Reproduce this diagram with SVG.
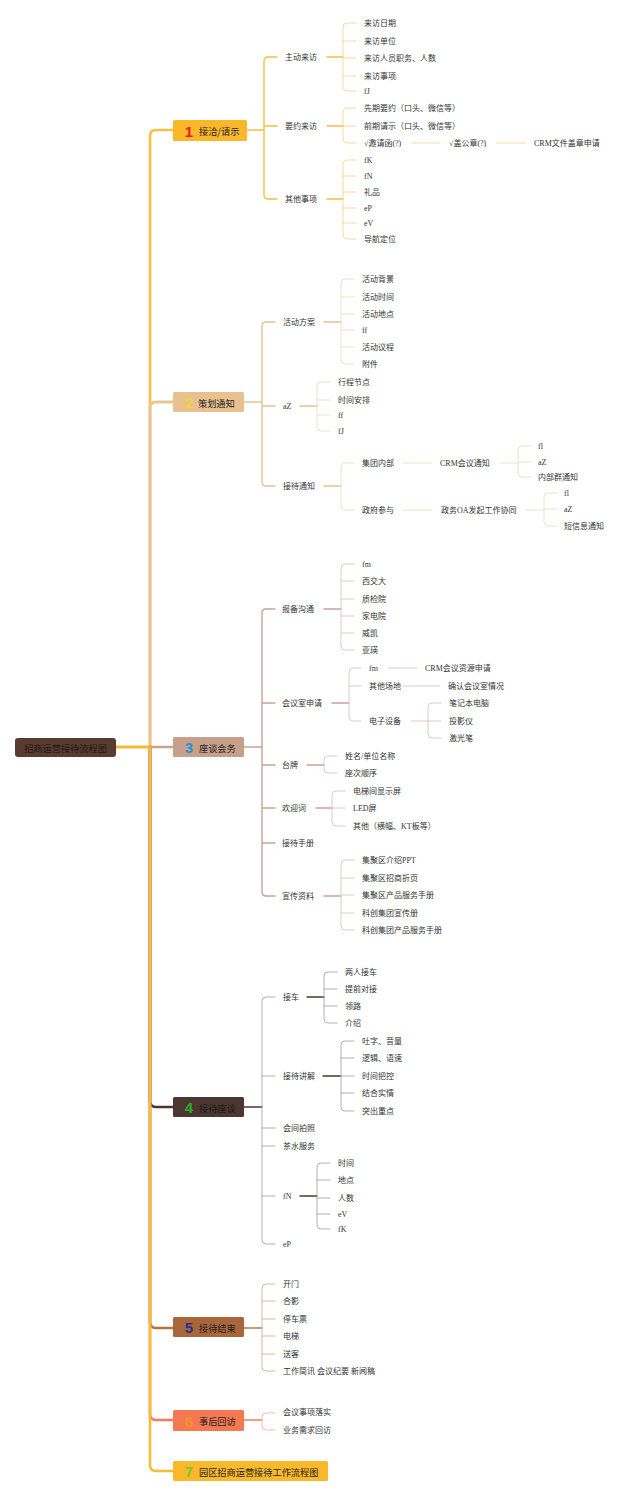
<svg xmlns="http://www.w3.org/2000/svg" width="640" height="1496" viewBox="0 0 640 1496">
<style>
text{font-family:"Liberation Serif","Noto Sans CJK SC",sans-serif;font-size:8px;fill:#333;dominant-baseline:central}
.b{font-family:"Noto Sans CJK SC",sans-serif;font-size:9.2px;fill:#222}
.n{font-family:"Liberation Sans","Noto Sans CJK SC",sans-serif;font-size:15px;font-weight:bold;text-anchor:middle}
path{fill:none;stroke-linecap:round}
.k1{stroke:#f6bf45;stroke-width:1.4}.t1{stroke:#f8d690;stroke-width:0.9}
.k2{stroke:#e6c292;stroke-width:1.4}.t2{stroke:#efdcc2;stroke-width:0.9}
.k3{stroke:#c9a29a;stroke-width:1.4}.t3{stroke:#dcc4c0;stroke-width:0.9}
.k4{stroke:#4a3833;stroke-width:1.4}.t4{stroke:#a8a8a8;stroke-width:0.9}
.k5{stroke:#b87848;stroke-width:1.4}.t5{stroke:#d8b090;stroke-width:0.9}
.k6{stroke:#f47a58;stroke-width:1.4}.t6{stroke:#f8b4a2;stroke-width:0.9}
</style>
<rect width="640" height="1496" fill="#fff"/>
<g id="connectors">
<path d="M150,747 V136 Q150,130 156,130 H173" stroke="#f6bf45" stroke-width="2.6"/>
<path d="M150,747 V408 Q150,402 156,402 H173" stroke="#e9c594" stroke-width="3"/>
<path d="M150,747 H173" stroke="#c9a08a" stroke-width="2.6"/>
<path d="M150,747 V1101 Q150,1107 156,1107 H173" stroke="#4a3530" stroke-width="2.6"/>
<path d="M150,747 V1322 Q150,1328 156,1328 H173" stroke="#b87040" stroke-width="2.6"/>
<path d="M150,747 V1414 Q150,1420 156,1420 H173" stroke="#f47a58" stroke-width="2.6"/>
<path d="M150,747 V1465 Q150,1471 156,1471 H173" stroke="#f7bc38" stroke-width="2.6"/>
<path d="M116,747 H150" stroke="#f5b830" stroke-width="3"/>
<!-- branch 1 -->
<path class="k1" d="M247,130 H264"/>
<path class="k1" d="M277,57 H268 Q264,57 264,61 V195 Q264,199 268,199 H277 M264,126 H277"/>
<path class="k1" d="M327,57 H343 M327,126 H343 M327,199 H343"/>
<path class="t1" d="M356,23 H347 Q343,23 343,27 V87 Q343,91 347,91 H356 M343,41 H356 M343,58 H356 M343,76 H356"/>
<path class="t1" d="M356,108 H347 Q343,108 343,112 V139 Q343,143 347,143 H356 M343,126 H356"/>
<path class="t1" d="M412,143 H440 M497,143 H525"/>
<path class="t1" d="M356,160 H347 Q343,160 343,164 V235 Q343,239 347,239 H356 M343,176 H356 M343,192 H356 M343,208 H356 M343,223 H356"/>
<!-- branch 2 -->
<path class="k2" d="M244,402 H262"/>
<path class="k2" d="M275,322 H266 Q262,322 262,326 V482 Q262,486 266,486 H275 M262,406 H275"/>
<path class="k2" d="M324,322 H341 M300,406 H317 M324,486 H341"/>
<path class="t2" d="M354,279 H345 Q341,279 341,283 V360 Q341,364 345,364 H354 M341,297 H354 M341,314 H354 M341,330 H354 M341,347 H354"/>
<path class="t2" d="M330,382 H321 Q317,382 317,386 V427 Q317,431 321,431 H330 M317,400 H330 M317,415 H330"/>
<path class="t2" d="M354,463 H345 Q341,463 341,467 V506 Q341,510 345,510 H354"/>
<path class="t2" d="M403,463 H432 M500,463 H518 M403,510 H432 M526,510 H544"/>
<path class="t2" d="M531,446 H522 Q518,446 518,450 V473 Q518,477 522,477 H531 M518,462 H531"/>
<path class="t2" d="M557,493 H548 Q544,493 544,497 V522 Q544,526 548,526 H557 M544,509 H557"/>
<!-- branch 3 -->
<path class="k3" d="M244,747 H262"/>
<path class="k3" d="M275,609 H266 Q262,609 262,613 V892 Q262,896 266,896 H275 M262,703 H275 M262,765 H275 M262,808 H275 M262,843 H275"/>
<path class="k3" d="M324,609 H341 M332,703 H349 M307,765 H324 M316,808 H332 M324,896 H341"/>
<path class="t3" d="M354,564 H345 Q341,564 341,568 V646 Q341,650 345,650 H354 M341,581 H354 M341,599 H354 M341,616 H354 M341,633 H354"/>
<path class="t3" d="M361,668 H353 Q349,668 349,672 V717 Q349,721 353,721 H361 M349,686 H361"/>
<path class="t3" d="M388,668 H417 M403,686 H440 M411,721 H428"/>
<path class="t3" d="M441,703 H432 Q428,703 428,707 V734 Q428,738 432,738 H441 M428,721 H441"/>
<path class="t3" d="M337,756 H328 Q324,756 324,760 V769 Q324,773 328,773 H337"/>
<path class="t3" d="M345,791 H336 Q332,791 332,795 V822 Q332,826 336,826 H345 M332,808 H345"/>
<path class="t3" d="M354,860 H345 Q341,860 341,864 V926 Q341,930 345,930 H354 M341,878 H354 M341,895 H354 M341,913 H354"/>
<!-- branch 4 -->
<path class="k4" d="M244,1107 H262"/>
<path class="t4" d="M275,997 H266 Q262,997 262,1001 V1240 Q262,1244 266,1244 H275 M262,1076 H275 M262,1128 H275 M262,1146 H275 M262,1196 H275"/>
<path class="k4" d="M307,997 H324 M323,1076 H341 M300,1196 H317"/>
<path class="t4" d="M337,972 H328 Q324,972 324,976 V1019 Q324,1023 328,1023 H337 M324,989 H337 M324,1006 H337"/>
<path class="t4" d="M354,1041 H345 Q341,1041 341,1045 V1107 Q341,1111 345,1111 H354 M341,1058 H354 M341,1076 H354 M341,1093 H354"/>
<path class="t4" d="M330,1163 H321 Q317,1163 317,1167 V1225 Q317,1229 321,1229 H330 M317,1180 H330 M317,1198 H330 M317,1214 H330"/>
<!-- branch 5 -->
<path class="k5" d="M244,1328 H262"/>
<path class="t5" d="M275,1284 H266 Q262,1284 262,1288 V1367 Q262,1371 266,1371 H275 M262,1301 H275 M262,1319 H275 M262,1336 H275 M262,1354 H275"/>
<!-- branch 6 -->
<path class="k6" d="M244,1420 H262"/>
<path class="t6" d="M275,1413 H266 Q262,1413 262,1417 V1426 Q262,1430 266,1430 H275"/>
</g>
<g id="root"><rect x="15" y="738" width="101" height="19" rx="3" fill="#5b3a2f"/><text class="b" x="65.5" y="747.5" text-anchor="middle" fill="#1a1a1a" style="fill:#1a1a1a">招商运营接待流程图</text></g>
<g id="b1"><rect x="173" y="120" width="74" height="21" rx="1.5" fill="#f9b72b"/><text class="n" x="189" y="131" style="fill:#e3211c">1</text><text class="b" x="199" y="131">接洽/请示</text></g>
<g id="b2"><rect x="173" y="392" width="71" height="20" rx="1.5" fill="#e8c18f"/><text class="n" x="189" y="402.5" style="fill:#f2d43e">2</text><text class="b" x="198" y="402.5">策划通知</text></g>
<g id="b3"><rect x="173" y="737" width="71" height="20" rx="1.5" fill="#c8a08a"/><text class="n" x="189" y="747.5" style="fill:#2b8fd8">3</text><text class="b" x="199" y="747.5">座谈会务</text></g>
<g id="b4"><rect x="173" y="1097" width="71" height="20" rx="1.5" fill="#4b3631"/><text class="n" x="189" y="1107.5" style="fill:#2aae2a">4</text><text class="b" x="199" y="1107.5" style="fill:#1a1a1a">接待座谈</text></g>
<g id="b5"><rect x="173" y="1317" width="71" height="20" rx="1.5" fill="#a8663a"/><text class="n" x="189" y="1327.5" style="fill:#2a2f8a">5</text><text class="b" x="199" y="1327.5">接待结束</text></g>
<g id="b6"><rect x="173" y="1410" width="71" height="21" rx="1.5" fill="#f47852"/><text class="n" x="189" y="1421" style="fill:#f7922d">6</text><text class="b" x="199" y="1421">事后回访</text></g>
<g id="b7"><rect x="173" y="1461" width="155" height="20" rx="1.5" fill="#f9b92b"/><text class="n" x="189" y="1471.5" style="fill:#88c22a">7</text><text class="b" x="199" y="1471.5">园区招商运营接待工作流程图</text></g>
<g id="l1">
<g id="n1a"><text x="285" y="57">主动来访</text></g>
<g id="n1b"><text x="285" y="126">要约来访</text></g>
<g id="n1c"><text x="285" y="199">其他事项</text></g>
<g id="n1a1"><text x="364" y="23">来访日期</text></g>
<g id="n1a2"><text x="364" y="41">来访单位</text></g>
<g id="n1a3"><text x="364" y="58">来访人员职务、人数</text></g>
<g id="n1a4"><text x="364" y="76">来访事项</text></g>
<g id="n1a5"><text x="364" y="91">fJ</text></g>
<g id="n1b1"><text x="364" y="108">先期要约（口头、微信等）</text></g>
<g id="n1b2"><text x="364" y="126">前期请示（口头、微信等）</text></g>
<g id="n1b3"><text x="364" y="143">√邀请函(?)</text></g>
<g id="n1b4"><text x="449" y="143">√盖公章(?)</text></g>
<g id="n1b5"><text x="534" y="143">CRM文件盖章申请</text></g>
<g id="n1c1"><text x="364" y="160">fK</text></g>
<g id="n1c2"><text x="364" y="176">fN</text></g>
<g id="n1c3"><text x="364" y="192">礼品</text></g>
<g id="n1c4"><text x="364" y="208">eP</text></g>
<g id="n1c5"><text x="364" y="223">eV</text></g>
<g id="n1c6"><text x="364" y="239">导航定位</text></g>
</g>
<g id="l2">
<g id="n2a"><text x="283" y="322">活动方案</text></g>
<g id="n2b"><text x="283" y="406">aZ</text></g>
<g id="n2c"><text x="283" y="486">接待通知</text></g>
<g id="n2a1"><text x="362" y="279">活动背景</text></g>
<g id="n2a2"><text x="362" y="297">活动时间</text></g>
<g id="n2a3"><text x="362" y="314">活动地点</text></g>
<g id="n2a4"><text x="362" y="330">ff</text></g>
<g id="n2a5"><text x="362" y="347">活动议程</text></g>
<g id="n2a6"><text x="362" y="364">附件</text></g>
<g id="n2b1"><text x="338" y="382">行程节点</text></g>
<g id="n2b2"><text x="338" y="400">时间安排</text></g>
<g id="n2b3"><text x="338" y="415">ff</text></g>
<g id="n2b4"><text x="338" y="431">fJ</text></g>
<g id="n2c1"><text x="362" y="463">集团内部</text></g>
<g id="n2c2"><text x="362" y="510">政府参与</text></g>
<g id="n2c3"><text x="440" y="463">CRM会议通知</text></g>
<g id="n2c4"><text x="441" y="510">政务OA发起工作协同</text></g>
<g id="n2c5"><text x="538" y="446">fl</text></g>
<g id="n2c6"><text x="538" y="462">aZ</text></g>
<g id="n2c7"><text x="538" y="477">内部群通知</text></g>
<g id="n2c8"><text x="564" y="493">fl</text></g>
<g id="n2c9"><text x="564" y="509">aZ</text></g>
<g id="n2c10"><text x="564" y="526">短信息通知</text></g>
</g>
<g id="l3">
<g id="n3a"><text x="282" y="609">报备沟通</text></g>
<g id="n3b"><text x="282" y="703">会议室申请</text></g>
<g id="n3c"><text x="282" y="765">台牌</text></g>
<g id="n3d"><text x="282" y="808">欢迎词</text></g>
<g id="n3e"><text x="282" y="843">接待手册</text></g>
<g id="n3f"><text x="282" y="896">宣传资料</text></g>
<g id="n3a1"><text x="362" y="564">fm</text></g>
<g id="n3a2"><text x="362" y="581">西交大</text></g>
<g id="n3a3"><text x="362" y="599">质检院</text></g>
<g id="n3a4"><text x="362" y="616">家电院</text></g>
<g id="n3a5"><text x="362" y="633">威凯</text></g>
<g id="n3a6"><text x="362" y="650">亚瑛</text></g>
<g id="n3b1"><text x="369" y="668">fm</text></g>
<g id="n3b2"><text x="369" y="686">其他场地</text></g>
<g id="n3b3"><text x="369" y="721">电子设备</text></g>
<g id="n3b4"><text x="425" y="668">CRM会议资源申请</text></g>
<g id="n3b5"><text x="448" y="686">确认会议室情况</text></g>
<g id="n3b6"><text x="449" y="703">笔记本电脑</text></g>
<g id="n3b7"><text x="449" y="721">投影仪</text></g>
<g id="n3b8"><text x="449" y="738">激光笔</text></g>
<g id="n3c1"><text x="345" y="756">姓名/单位名称</text></g>
<g id="n3c2"><text x="345" y="773">座次顺序</text></g>
<g id="n3d1"><text x="353" y="791">电梯间显示屏</text></g>
<g id="n3d2"><text x="353" y="808">LED屏</text></g>
<g id="n3d3"><text x="353" y="826">其他（横幅、KT板等）</text></g>
<g id="n3f1"><text x="362" y="860">集聚区介绍PPT</text></g>
<g id="n3f2"><text x="362" y="878">集聚区招商折页</text></g>
<g id="n3f3"><text x="362" y="895">集聚区产品服务手册</text></g>
<g id="n3f4"><text x="362" y="913">科创集团宣传册</text></g>
<g id="n3f5"><text x="362" y="930">科创集团产品服务手册</text></g>
</g>
<g id="l4">
<g id="n4a"><text x="283" y="997">接车</text></g>
<g id="n4b"><text x="283" y="1076">接待讲解</text></g>
<g id="n4c"><text x="283" y="1128">会间拍照</text></g>
<g id="n4d"><text x="283" y="1146">茶水服务</text></g>
<g id="n4e"><text x="283" y="1196">fN</text></g>
<g id="n4f"><text x="283" y="1244">eP</text></g>
<g id="n4a1"><text x="345" y="972">两人接车</text></g>
<g id="n4a2"><text x="345" y="989">提前对接</text></g>
<g id="n4a3"><text x="345" y="1006">领路</text></g>
<g id="n4a4"><text x="345" y="1023">介绍</text></g>
<g id="n4b1"><text x="362" y="1041">吐字、音量</text></g>
<g id="n4b2"><text x="362" y="1058">逻辑、语速</text></g>
<g id="n4b3"><text x="362" y="1076">时间把控</text></g>
<g id="n4b4"><text x="362" y="1093">结合实情</text></g>
<g id="n4b5"><text x="362" y="1111">突出重点</text></g>
<g id="n4e1"><text x="338" y="1163">时间</text></g>
<g id="n4e2"><text x="338" y="1180">地点</text></g>
<g id="n4e3"><text x="338" y="1198">人数</text></g>
<g id="n4e4"><text x="338" y="1214">eV</text></g>
<g id="n4e5"><text x="338" y="1229">fK</text></g>
</g>
<g id="l5">
<g id="n5a"><text x="283" y="1284">开门</text></g>
<g id="n5b"><text x="283" y="1301">合影</text></g>
<g id="n5c"><text x="283" y="1319">停车票</text></g>
<g id="n5d"><text x="283" y="1336">电梯</text></g>
<g id="n5e"><text x="283" y="1354">送客</text></g>
<g id="n5f"><text x="283" y="1371">工作简讯 会议纪要 新闻稿</text></g>
</g>
<g id="l6">
<g id="n6a"><text x="283" y="1412">会议事项落实</text></g>
<g id="n6b"><text x="283" y="1430">业务需求回访</text></g>
</g>
</svg>
